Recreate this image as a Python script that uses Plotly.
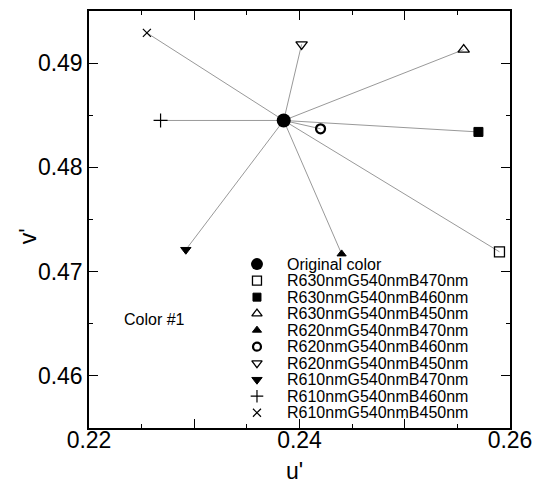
import plotly.graph_objects as go

# ---- data ----
orig_u = 0.2385
orig_v = 0.4845

series_names = [
    "R630nmG540nmB470nm", "R630nmG540nmB460nm", "R630nmG540nmB450nm",
    "R620nmG540nmB470nm", "R620nmG540nmB460nm", "R620nmG540nmB450nm",
    "R610nmG540nmB470nm", "R610nmG540nmB460nm", "R610nmG540nmB450nm",
]
u_vals = [0.2590, 0.2570, 0.2556, 0.2440, 0.2420, 0.2402, 0.2292, 0.2268, 0.2255]
v_vals = [0.4719, 0.4834, 0.4913, 0.4717, 0.4837, 0.4918, 0.4721, 0.4845, 0.4929]

symbols = ["square-open", "square", "triangle-up-open", "triangle-up", "circle-open",
           "triangle-down-open", "triangle-down", "cross-thin-open", "x-thin-open"]
plot_sizes = [10, 9, 10, 8, 9, 10, 9, 10, 8]
legend_sizes = [9, 8, 9, 8, 8, 9, 9, 9, 8]
line_widths = [1.3, 1, 1.3, 1, 2.2, 1.3, 1, 1.2, 1.2]

x_tickvals = [0.22, 0.23, 0.24, 0.25, 0.26]
x_ticktext = ["0.22", "", "0.24", "", "0.26"]
y_tickvals = [0.46, 0.47, 0.48, 0.49]

FONT = "Liberation Sans, Arial, Helvetica, sans-serif"

fig = go.Figure()

# connecting lines from original colour to each variant
lx, ly = [], []
for u, v in zip(u_vals, v_vals):
    lx += [orig_u, u, None]
    ly += [orig_v, v, None]
fig.add_trace(go.Scatter(x=lx, y=ly, mode="lines",
                         line=dict(color="#999999", width=1), showlegend=False,
                         hoverinfo="skip"))

# variant markers
for name, u, v, s, sz, lw in zip(series_names, u_vals, v_vals, symbols, plot_sizes, line_widths):
    fig.add_trace(go.Scatter(x=[u], y=[v], mode="markers", name=name, showlegend=False,
                             marker=dict(symbol=s, size=sz, color="black",
                                         line=dict(color="black", width=lw))))

# original colour
fig.add_trace(go.Scatter(x=[orig_u], y=[orig_v], mode="markers", name="Original color",
                         showlegend=False,
                         marker=dict(symbol="circle", size=14, color="black")))

# ---- custom legend on an overlay axis (0..1 of the plot area) ----
leg_names = ["Original color"] + series_names
leg_symbols = ["circle"] + symbols
leg_sizes = [12] + legend_sizes
leg_lw = [0] + line_widths
x_sym = 0.399
x_txt = 0.466
y0 = 0.393
dy = 0.0396
leg_y = [y0 - i * dy for i in range(len(leg_names))]
for nm, s, sz, lw, yy in zip(leg_names, leg_symbols, leg_sizes, leg_lw, leg_y):
    fig.add_trace(go.Scatter(x=[x_sym], y=[yy], mode="markers", xaxis="x2", yaxis="y2",
                             showlegend=False, hoverinfo="skip",
                             marker=dict(symbol=s, size=sz, color="black",
                                         line=dict(color="black", width=lw))))
    fig.add_annotation(x=x_txt, y=yy, xref="x2", yref="y2", text=nm, showarrow=False,
                       xanchor="left", yanchor="middle",
                       font=dict(family=FONT, size=16, color="black"))

fig.add_annotation(x=0.2231, y=0.4654, text="Color #1", showarrow=False,
                   xanchor="left", yanchor="middle",
                   font=dict(family=FONT, size=16, color="black"))

# axis titles
fig.add_annotation(x=0.489, y=-0.103, xref="paper", yref="paper", text="u'",
                   showarrow=False, xanchor="center", yanchor="middle",
                   font=dict(family=FONT, size=23, color="black"))
fig.add_annotation(x=-0.145, y=0.46, xref="paper", yref="paper", text="v'",
                   showarrow=False, xanchor="center", yanchor="middle", textangle=-90,
                   font=dict(family=FONT, size=23, color="black"))

axis_common = dict(showgrid=False, zeroline=False, showline=True, linecolor="black",
                   linewidth=1.5, mirror="ticks", ticks="inside", ticklen=9,
                   tickwidth=1.2, tickcolor="black", automargin=False,
                   tickfont=dict(family=FONT, size=23, color="black"))

fig.update_layout(
    width=543, height=489,
    margin=dict(l=89, r=33, t=11, b=61),
    paper_bgcolor="white", plot_bgcolor="white",
    font=dict(family=FONT, color="black"),
    xaxis=dict(range=[0.22, 0.26], tickvals=x_tickvals, ticktext=x_ticktext,
               ticklabelstandoff=-9,
               minor=dict(dtick=0.005, tick0=0.22, ticks="inside", ticklen=4,
                          tickcolor="black", tickwidth=1.2, showgrid=False),
               **axis_common),
    yaxis=dict(range=[0.455, 0.495], tickvals=y_tickvals, tickformat=".2f",
               minor=dict(dtick=0.005, tick0=0.455, ticks="inside", ticklen=4,
                          tickcolor="black", tickwidth=1.2, showgrid=False),
               **axis_common),
    xaxis2=dict(range=[0, 1], overlaying="x", visible=False, fixedrange=True),
    yaxis2=dict(range=[0, 1], overlaying="y", visible=False, fixedrange=True),
    showlegend=False,
)

fig.write_html("out.html")
